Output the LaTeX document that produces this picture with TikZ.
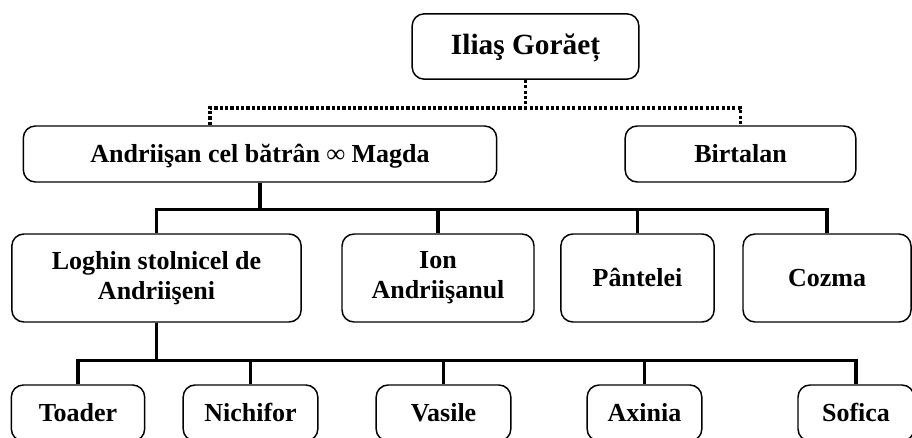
\documentclass[tikz,border=0pt]{standalone}
\usepackage{fontspec}
\setmainfont{Liberation Serif}

\tikzset{
    boite/.style={draw, rounded corners=9pt, line width=1.1pt, align=center,
        font=\bfseries\fontsize{19.5}{22.5}\selectfont, inner sep=0pt},
    simple/.style={boite, text height=15pt, text depth=2.5pt},
    lien/.style={line width=2.3pt},
    pointille/.style={line width=2.6pt, dash pattern=on 2.4pt off 1.6pt}
}

\begin{document}
\begin{tikzpicture}[x=0.75pt, y=-0.75pt]

        \clip (0,0) rectangle (912,438);

        % Le premier
        \node[simple, minimum width=170pt, minimum height=49pt,
              font=\bfseries\fontsize{22}{25}\selectfont] (ilias) at (525.5,46.5) {Iliaş Gorăeț};

        % Ses fils
        \node[simple, minimum width=355pt, minimum height=42pt] (andri) at (260,154) {Andriişan cel bătrân ∞ Magda};
        \node[simple, minimum width=173pt, minimum height=42pt] (birtalan) at (740.5,154) {Birtalan};

        % Les enfants d'Andriişan
        \node[boite, minimum width=217pt, minimum height=66pt] (loghin) at (156.5,278) {Loghin stolnicel de\\Andriişeni};
        \node[boite, minimum width=144pt, minimum height=66pt] (ion) at (438,278) {Ion\\Andriişanul};
        \node[simple, minimum width=115pt, minimum height=66pt] (pantelei) at (637.5,278) {Pântelei};
        \node[simple, minimum width=126pt, minimum height=66pt] (cozma) at (827,278) {Cozma};

        % Les enfants de Loghin
        \node[simple, minimum width=100pt, minimum height=42pt] (toader) at (78,413) {Toader};
        \node[simple, minimum width=101pt, minimum height=42pt] (nichifor) at (250.5,413) {Nichifor};
        \node[simple, minimum width=101pt, minimum height=42pt] (vasile) at (443.5,413) {Vasile};
        \node[simple, minimum width=86pt, minimum height=42pt] (axinia) at (644.5,413) {Axinia};
        \node[simple, minimum width=87pt, minimum height=42pt] (sofica) at (856,413) {Sofica};

        % Lignes en pointillé
        \draw[pointille] (ilias.south) -- ++(0,28) -| ([xshift=-37.5pt]andri.north);
        \draw[pointille] (ilias.south) -- ++(0,28) -| (birtalan.north);

        % Lignes pleines
        \foreach \enfant in {loghin, ion, pantelei, cozma}
            \draw[lien] (andri.south) -- ++(0,27) -| (\enfant.north);
        \foreach \enfant in {toader, nichifor, vasile, axinia, sofica}
            \draw[lien] (loghin.south) -- ++(0,38) -| (\enfant.north);

    \end{tikzpicture}
\end{document}
